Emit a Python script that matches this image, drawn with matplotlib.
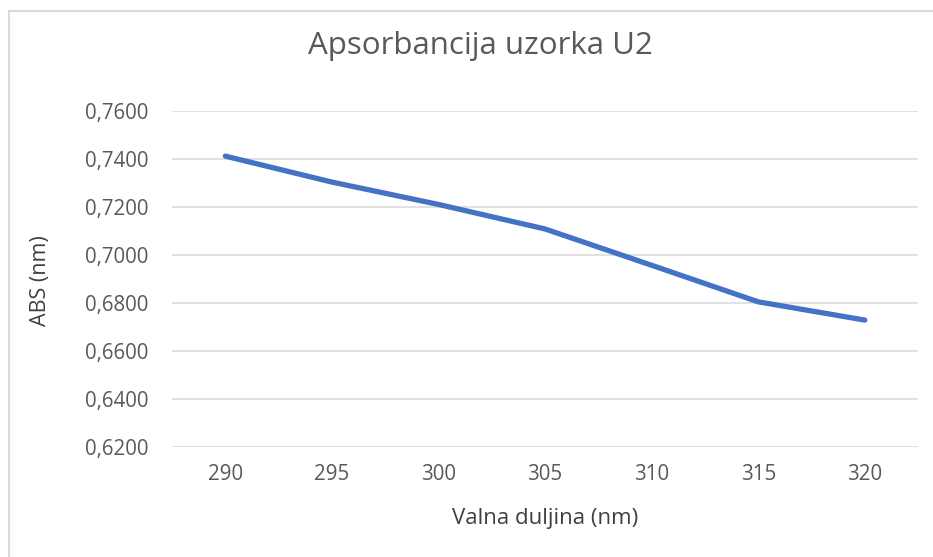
import matplotlib
matplotlib.use("Agg")
import matplotlib.pyplot as plt
from matplotlib.patches import Rectangle
from matplotlib.ticker import FuncFormatter

# podaci
wavelengths = [290, 295, 300, 305, 310, 315, 320]
absorbance = [0.7411, 0.7303, 0.7210, 0.7108, 0.6957, 0.6805, 0.6729]
y_ticks = [0.62, 0.64, 0.66, 0.68, 0.70, 0.72, 0.74, 0.76]

plt.rcParams['font.family'] = ['Open Sans', 'DejaVu Sans']
text_col = '#595959'
grid_col = '#D9D9D9'

fig = plt.figure(figsize=(9.33, 5.57), dpi=100)
ax = fig.add_axes([0.1844, 0.197, 0.7996, 0.6043])

pos = list(range(len(wavelengths)))
ax.plot(pos, absorbance, color='#4472C4', lw=3.8,
        solid_capstyle='round', solid_joinstyle='round')

ax.set_xlim(-0.5, len(wavelengths) - 0.5)
ax.set_ylim(y_ticks[0], y_ticks[-1])
ax.set_xticks(pos)
ax.set_xticklabels([str(w) for w in wavelengths])
ax.set_yticks(y_ticks)
ax.yaxis.set_major_formatter(FuncFormatter(lambda v, p: f"{v:.4f}".replace('.', ',')))

ax.grid(axis='y', color=grid_col, lw=1.1)
ax.set_axisbelow(True)
for s in ax.spines.values():
    s.set_visible(False)
ax.tick_params(length=0, labelsize=14.8, colors=text_col)
ax.tick_params(axis='y', pad=17)
ax.tick_params(axis='x', pad=12)

fig.text(0.515, 0.917, 'Apsorbancija uzorka U2', ha='center', va='center',
         fontsize=22.5, color=text_col)
fig.text(0.584, 0.07, 'Valna duljina (nm)', ha='center', va='center',
         fontsize=16, color='#404040')
fig.text(0.043, 0.497, 'ABS (nm)', ha='center', va='center', rotation=90,
         fontsize=15.5, color='#404040')

# okvir grafikona
fig.patches.append(Rectangle((9 / 933, -0.1), 1.1, 1 - 11 / 557 + 0.1,
                             transform=fig.transFigure, fill=False,
                             edgecolor=grid_col, lw=1.5))

fig.savefig('out.png', dpi=100)
